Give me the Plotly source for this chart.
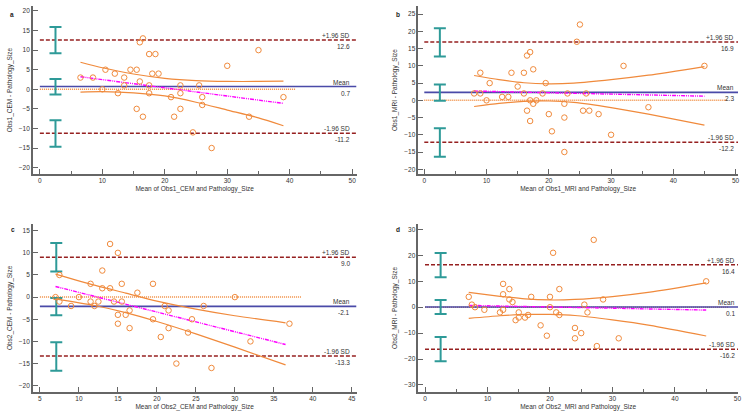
import plotly.graph_objects as go

# ---------------- data ----------------
panel_names = ["a", "b", "c", "d"]
x_titles = ["Mean of Obs1_CEM and Pathology_Size", "Mean of Obs1_MRI and Pathology_Size",
            "Mean of Obs2_CEM and Pathology_Size", "Mean of Obs2_MRI and Pathology_Size"]
y_titles = ["Obs1_CEM - Pathology_Size", "Obs1_MRI - Pathology_Size",
            "Obs2_CEM - Pathology_Size", "Obs2_MRI - Pathology_Size"]

# Panel a
a_x = [6.5, 8.5, 10.5, 10, 12, 12.5, 13.5, 13.5, 14.5, 15.5, 15.5, 16, 16, 16.5, 16.5, 17.5, 17.5, 17.5,
       18, 18.5, 19, 21, 21.5, 22.5, 22.5, 22.5, 24.5, 25.5, 26, 26, 27.5, 30, 33.5, 35, 39]
a_y = [3, 3, 5, 0, 4, -1, 3, 1, 5, 5, -5, 2, 12, 13, -7, 9, 1, -1,
       4, 9, 4, -2, -7, 1, -1, -5, -11, 1, -2, -4, -15, 6, -7, 10, -2]
a_stats = [12.6, 0.7, -11.2]          # +1.96 SD, mean, -1.96 SD
a_ci_lo = [9.2, -1.3, -14.7]
a_ci_hi = [15.9, 2.6, -7.9]
a_reg_x = [6.5, 39]
a_reg_y = [3.2, -3.6]
a_band_x = [6.5, 10, 15, 20, 25, 30, 35, 39]
a_band_up = [6.9, 5.5, 3.9, 2.8, 2.2, 2.0, 2.0, 2.1]
a_band_lo = [-0.7, -0.6, -0.9, -1.7, -3.3, -5.3, -7.3, -9.3]

# Panel b
b_x = [8, 9, 9, 10.5, 10, 12.5, 13.5, 14, 15, 16, 16, 16.5, 17, 16.5, 17, 17, 17.5, 17.5, 18,
       19, 19.5, 20, 20.5, 22.5, 22.5, 22.5, 23, 24.5, 25, 25.5, 26, 26.5, 28, 30, 32, 36, 45]
b_y = [2, 8, 2, 5, 0, 1, 1, 8, 4, 8, 2, 13, 14, -3, 0, -6, 9, -1, 0,
       2, 5, -4, -9, -1, -5, -15, 2, 17, 22, -3, 2, -3, -4, -10, 10, -2, 10]
b_stats = [16.9, 2.3, -12.2]
b_ci_lo = [12.7, -0.1, -16.4]
b_ci_hi = [20.9, 4.6, -8.1]
b_reg_x = [8, 45]
b_reg_y = [2.7, 1.2]
b_band_x = [8, 12, 16, 20, 24, 30, 36, 45]
b_band_up = [7.2, 6.0, 5.1, 4.8, 5.0, 6.0, 7.3, 9.8]
b_band_lo = [-1.8, -0.9, -0.3, -0.2, -0.6, -2.1, -4.0, -7.2]

# Panel c
c_x = [7, 7.5, 7.5, 9, 10, 11.5, 11.5, 12, 12.5, 13, 13, 14, 14, 14.5, 15, 15, 15, 15.5, 15.5,
       16, 16.5, 16.5, 17.5, 19.5, 19.5, 20.5, 21, 21.5, 21.5, 22.5, 24.5, 24, 26, 27, 30, 32, 37]
c_y = [0, 5, -1, -2, 0, 3, -1, -2, -1, 6, 2, 12, 2, -1, 10, -4, -6, 3, -1,
       -4, -3, -7, 1, 3, -5, -9, -2, -3, -7, -15, -5, -8, -2, -16, 0, -10, -6]
c_stats = [9.0, -2.1, -13.3]
c_ci_lo = [5.8, -4.1, -16.6]
c_ci_hi = [12.2, -0.2, -10.2]
c_reg_x = [7, 36.5]
c_reg_y = [2.4, -10.7]
c_band_x = [7, 12, 16, 20, 25, 30, 36.5]
c_band_up = [5.2, 2.7, 0.9, -0.9, -2.7, -4.2, -5.8]
c_band_lo = [-0.4, -1.9, -3.5, -5.5, -8.3, -11.3, -15.3]

# Panel d
d_x = [7, 7.5, 8, 9.5, 12, 12.5, 12.5, 12.5, 13.5, 13.5, 14, 14.5, 15, 15, 16, 16.5, 17, 18.5,
       19.5, 20, 20, 20.5, 21, 21.5, 21.5, 24, 24, 25, 25.5, 26, 27, 27.5, 28.5, 31, 45]
d_y = [4, 1, 0, -1, -2, 9, 5, -1, 7, 3, 2, -5, -2, -4, -4, -3, 4, -7,
       -11, 4, 0, 21, -2, -3, 7, -8, -12, -10, 1, -2, 26, -15, 3, -12, 10]
d_stats = [16.4, 0.1, -16.2]
d_ci_lo = [11.6, -2.6, -20.9]
d_ci_hi = [20.9, 2.8, -11.5]
d_reg_x = [7, 45]
d_reg_y = [0.7, -1.1]
d_band_x = [7, 12, 16, 20, 24, 30, 36, 45]
d_band_up = [5.7, 4.2, 3.2, 2.8, 3.0, 4.1, 5.8, 9.4]
d_band_lo = [-4.3, -3.3, -2.8, -2.8, -3.2, -4.9, -7.0, -11.1]

stat_labels = ["+1.96 SD", "Mean", "-1.96 SD"]
ci_x = [2.5, 2.5, 7.1, 2.5]          # x position of the CI bars
line_start = [0, 0, 5, 0]            # where horizontal lines begin
zero_end = [41, 48.8, 38.6, 48.5]    # end of the dotted zero line
label_x = [50, 50, 45, 50]           # right edge of stat labels

x_ranges = [[-1.12, 50.7], [-0.96, 50.4], [4.1, 45.6], [-1.07, 50.1]]
y_ranges = [[-21.6, 21.2], [-21.35, 27.3], [-21.35, 16.5], [-32.6, 32.1]]
x_dtick = [10, 10, 5, 10]
y_dtick = [5, 5, 5, 10]

# ---------------- style ----------------
FONT = "Liberation Sans"
FS = 6.5
ORANGE = "#F08A3C"
TEAL = "#2E9A98"
DRED = "#962020"
BLUE = "#4A4AA8"
MAGENTA = "#FF00FF"

x_domains = [[0.0439, 0.476], [0.5585, 0.9854], [0.0439, 0.476], [0.5585, 0.9854]]
y_domains = [[0.584, 0.985], [0.584, 0.985], [0.063, 0.464], [0.063, 0.464]]

panels = [
    (a_x, a_y, a_stats, a_ci_lo, a_ci_hi, a_reg_x, a_reg_y, a_band_x, a_band_up, a_band_lo),
    (b_x, b_y, b_stats, b_ci_lo, b_ci_hi, b_reg_x, b_reg_y, b_band_x, b_band_up, b_band_lo),
    (c_x, c_y, c_stats, c_ci_lo, c_ci_hi, c_reg_x, c_reg_y, c_band_x, c_band_up, c_band_lo),
    (d_x, d_y, d_stats, d_ci_lo, d_ci_hi, d_reg_x, d_reg_y, d_band_x, d_band_up, d_band_lo),
]

fig = go.Figure()
annotations = []
layout_axes = {}

for i, (px, py, stats, lo, hi, rx, ry, bx, bup, blo) in enumerate(panels):
    sfx = "" if i == 0 else str(i + 1)
    xa, ya = "x" + sfx, "y" + sfx
    xr = x_ranges[i]
    x0 = line_start[i]

    # zero line (dotted)
    fig.add_trace(go.Scatter(x=[x0, zero_end[i]], y=[0, 0], mode="lines", xaxis=xa, yaxis=ya,
                             line=dict(color=ORANGE, width=1.5, dash="1px,1px")))
    # limits of agreement
    for k, s in enumerate(stats):
        if k == 1:
            ln = dict(color=BLUE, width=1.6)
        else:
            ln = dict(color=DRED, width=1.5, dash="4px,2px")
        fig.add_trace(go.Scatter(x=[x0, xr[1]], y=[s, s], mode="lines", xaxis=xa, yaxis=ya, line=ln))
    # CI bars
    centers = [(l + h) / 2 for l, h in zip(lo, hi)]
    fig.add_trace(go.Scatter(
        x=[ci_x[i]] * 3, y=centers, mode="markers", xaxis=xa, yaxis=ya,
        marker=dict(size=0.1, color=TEAL),
        error_y=dict(type="data", symmetric=False,
                     array=[h - c for h, c in zip(hi, centers)],
                     arrayminus=[c - l for l, c in zip(lo, centers)],
                     color=TEAL, thickness=2, width=6)))
    # regression CI band
    fig.add_trace(go.Scatter(x=bx, y=bup, mode="lines", xaxis=xa, yaxis=ya,
                             line=dict(color=ORANGE, width=1.2, shape="spline", smoothing=0.7)))
    fig.add_trace(go.Scatter(x=bx, y=blo, mode="lines", xaxis=xa, yaxis=ya,
                             line=dict(color=ORANGE, width=1.2, shape="spline", smoothing=0.7)))
    # regression line
    fig.add_trace(go.Scatter(x=rx, y=ry, mode="lines", xaxis=xa, yaxis=ya,
                             line=dict(color=MAGENTA, width=1.4, dash="4px,1px,1px,1px,1px,1px")))
    # points
    fig.add_trace(go.Scatter(x=px, y=py, mode="markers", xaxis=xa, yaxis=ya,
                             marker=dict(symbol="circle-open", size=5.5, color=ORANGE,
                                         line=dict(width=1, color=ORANGE))))

    # stat labels
    for k, s in enumerate(stats):
        annotations.append(dict(x=label_x[i], y=s, xref=xa, yref=ya, text=stat_labels[k],
                                xanchor="right", yanchor="bottom", showarrow=False, yshift=-1,
                                font=dict(size=FS, color="#333", family=FONT)))
        annotations.append(dict(x=label_x[i], y=s, xref=xa, yref=ya, text=f"{s:.1f}",
                                xanchor="right", yanchor="top", showarrow=False, yshift=-1,
                                font=dict(size=FS, color="#333", family=FONT)))

    axis_common = dict(showline=True, linecolor="#666", linewidth=1.5, ticks="inside", ticklen=5,
                       tickcolor="#666", tickwidth=1, showgrid=False, zeroline=False,
                       tickfont=dict(size=FS, color="#333", family=FONT))
    xminor = dict(ticks="inside", ticklen=3, dtick=5, tick0=0, tickcolor="#666") if x_dtick[i] == 10 else None
    xaxis = dict(axis_common, domain=x_domains[i], range=xr, dtick=x_dtick[i], tick0=0,
                 anchor=ya, title=dict(text=x_titles[i], font=dict(size=FS, color="#333", family=FONT),
                                       standoff=3))
    if xminor:
        xaxis["minor"] = xminor
    yaxis = dict(axis_common, domain=y_domains[i], range=y_ranges[i], dtick=y_dtick[i], tick0=0,
                 anchor=xa, title=dict(text=y_titles[i], font=dict(size=FS, color="#333", family=FONT),
                                       standoff=6))
    layout_axes["xaxis" + sfx] = xaxis
    layout_axes["yaxis" + sfx] = yaxis

label_pos = [(0.016, 0.966), (0.531, 0.966), (0.017, 0.452), (0.531, 0.452)]
for name, (lx, ly) in zip(panel_names, label_pos):
    annotations.append(dict(x=lx, y=ly, xref="paper", yref="paper", text=f"<b>{name}</b>",
                            showarrow=False, xanchor="center", yanchor="middle",
                            font=dict(size=FS, color="#222", family=FONT)))

fig.update_layout(width=752, height=418, margin=dict(l=0, r=0, t=0, b=0),
                  paper_bgcolor="white", plot_bgcolor="white", showlegend=False,
                  annotations=annotations, **layout_axes)

fig.write_html("out.html", config={"displayModeBar": False},
               post_script="document.body.style.margin='0px';")
